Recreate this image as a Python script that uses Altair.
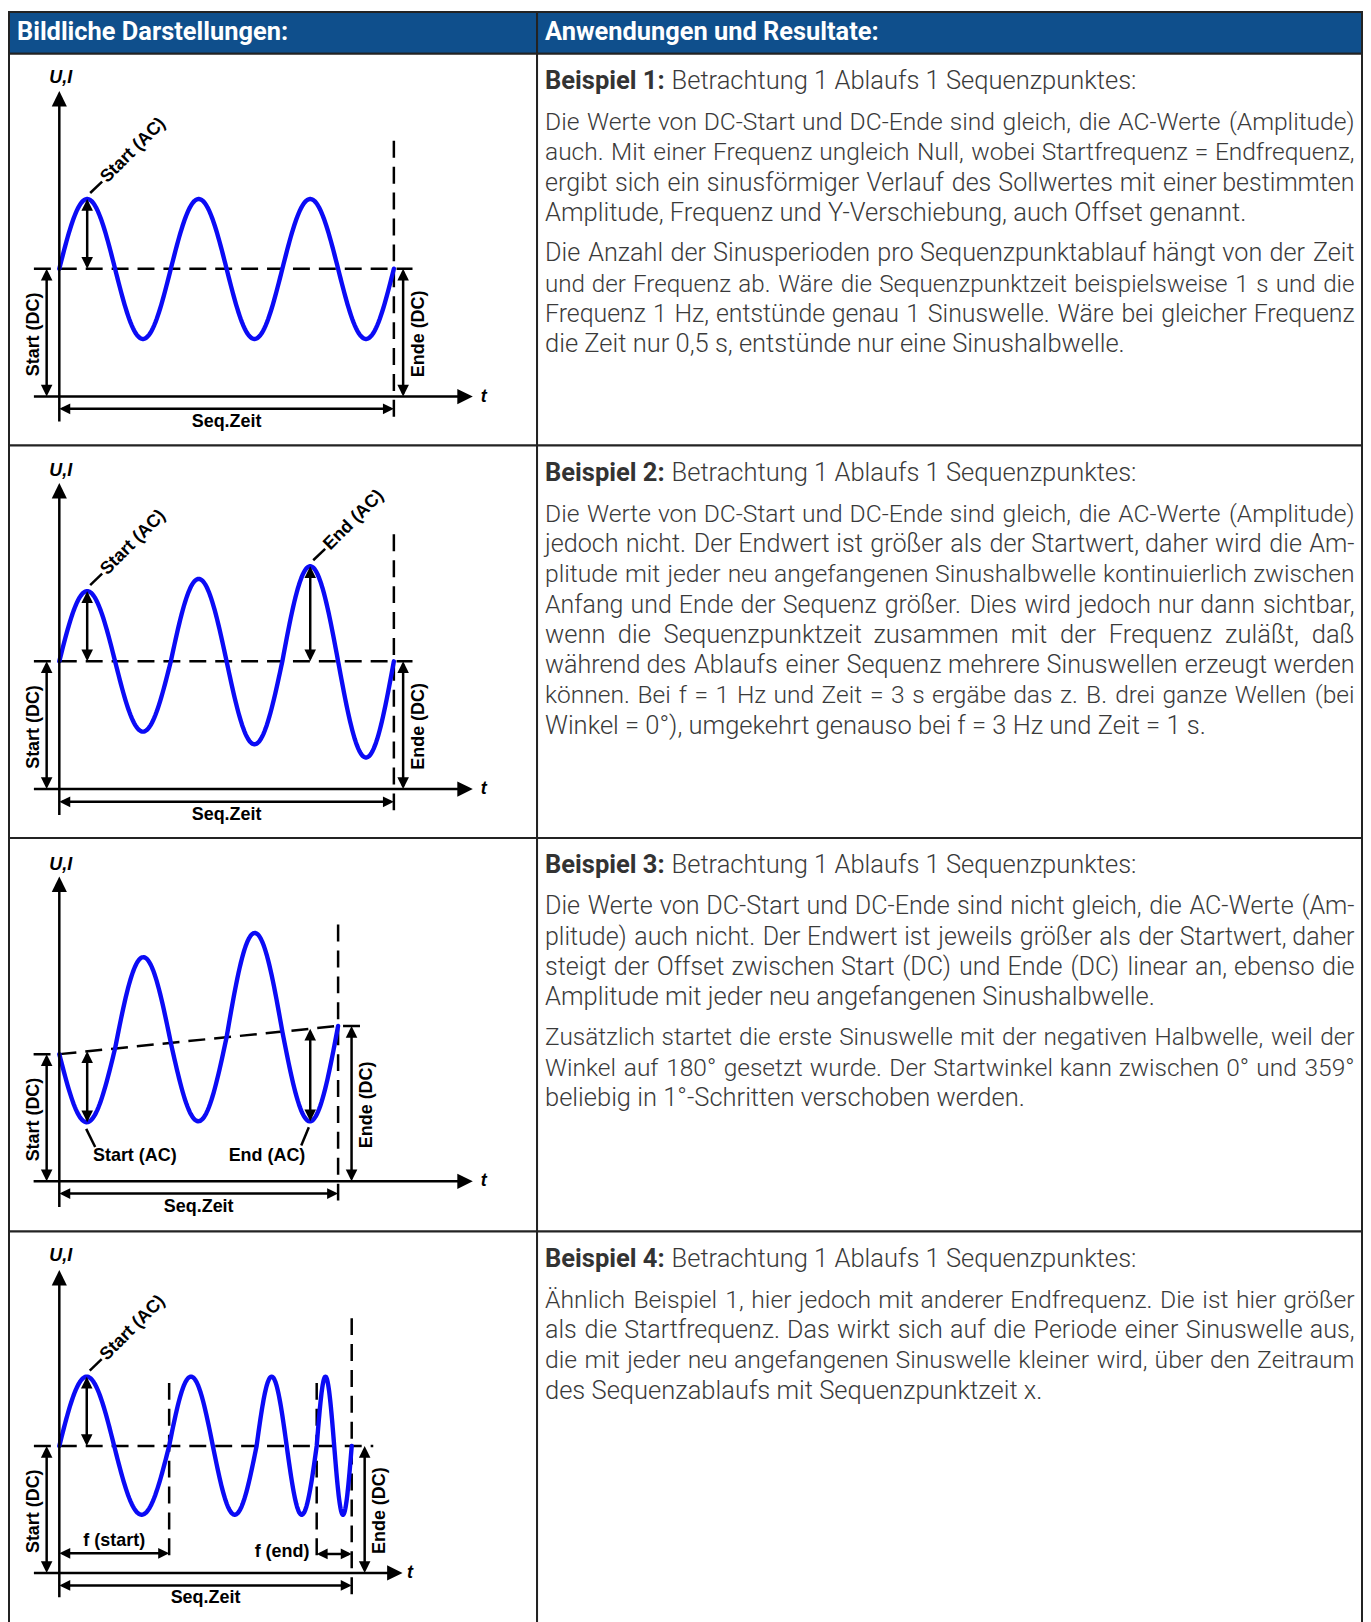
import numpy as np
import pandas as pd
import altair as alt

# ---------------------------------------------------------------- values
HEADERS = ["Bildliche Darstellungen:", "Anwendungen und Resultate:"]

# DC start / DC end (value units above the t axis), half-wave durations (s), signed half-wave amplitudes
EX1_DC = [128.3, 128.3]
EX1_HALF_DUR = [0.5, 0.5, 0.5, 0.5, 0.5, 0.5]
EX1_HALF_AMP = [70, -70.5, 70, -70.5, 70, -70.5]

EX2_DC = [128.3, 128.3]
EX2_HALF_DUR = [0.5, 0.5, 0.5, 0.5, 0.5, 0.5]
EX2_HALF_AMP = [70.4, -70.6, 82.7, -83.3, 95.4, -96.6]

EX3_DC = [127.7, 156.0]
EX3_HALF_DUR = [0.5, 0.5, 0.5, 0.5, 0.5]
EX3_HALF_AMP = [-71.2, 88.8, -81.5, 101.8, -92.9]

EX4_DC = [127.4, 127.4]
EX4_HALF_DUR = [0.492, 0.493, 0.392, 0.392, 0.27, 0.269, 0.157, 0.157]
EX4_HALF_AMP = [69.6, -69, 69.6, -69, 69.6, -69, 69.6, -69]

LBL_UI, LBL_T, LBL_SEQ = "U,I", "t", "Seq.Zeit"
LBL_SDC, LBL_EDC = "Start (DC)", "Ende (DC)"
LBL_SAC, LBL_EAC = "Start (AC)", "End (AC)"
LBL_FS, LBL_FE = "f (start)", "f (end)"

HEAD_BOLD = ["Beispiel 1:", "Beispiel 2:", "Beispiel 3:", "Beispiel 4:"]
HEAD_REST = "Betrachtung 1 Ablaufs 1 Sequenzpunktes:"

TEXT1 = [
    ["Die Werte von DC-Start und DC-Ende sind gleich, die AC-Werte (Amplitude)",
     "auch. Mit einer Frequenz ungleich Null, wobei Startfrequenz = Endfrequenz,",
     "ergibt sich ein sinusförmiger Verlauf des Sollwertes mit einer bestimmten",
     "Amplitude, Frequenz und Y-Verschiebung, auch Offset genannt."],
    ["Die Anzahl der Sinusperioden pro Sequenzpunktablauf hängt von der Zeit",
     "und der Frequenz ab. Wäre die Sequenzpunktzeit beispielsweise 1 s und die",
     "Frequenz 1 Hz, entstünde genau 1 Sinuswelle. Wäre bei gleicher Frequenz",
     "die Zeit nur 0,5 s, entstünde nur eine Sinushalbwelle."],
]
TEXT2 = [
    ["Die Werte von DC-Start und DC-Ende sind gleich, die AC-Werte (Amplitude)",
     "jedoch nicht. Der Endwert ist größer als der Startwert, daher wird die Am-",
     "plitude mit jeder neu angefangenen Sinushalbwelle kontinuierlich zwischen",
     "Anfang und Ende der Sequenz größer. Dies wird jedoch nur dann sichtbar,",
     "wenn die Sequenzpunktzeit zusammen mit der Frequenz zuläßt, daß",
     "während des Ablaufs einer Sequenz mehrere Sinuswellen erzeugt werden",
     "können. Bei f = 1 Hz und Zeit = 3 s ergäbe das z. B. drei ganze Wellen (bei",
     "Winkel = 0°), umgekehrt genauso bei f = 3 Hz und Zeit = 1 s."],
]
TEXT3 = [
    ["Die Werte von DC-Start und DC-Ende sind nicht gleich, die AC-Werte (Am-",
     "plitude) auch nicht. Der Endwert ist jeweils größer als der Startwert, daher",
     "steigt der Offset zwischen Start (DC) und Ende (DC) linear an, ebenso die",
     "Amplitude mit jeder neu angefangenen Sinushalbwelle."],
    ["Zusätzlich startet die erste Sinuswelle mit der negativen Halbwelle, weil der",
     "Winkel auf 180° gesetzt wurde. Der Startwinkel kann zwischen 0° und 359°",
     "beliebig in 1°-Schritten verschoben werden."],
]
TEXT4 = [
    ["Ähnlich Beispiel 1, hier jedoch mit anderer Endfrequenz. Die ist hier größer",
     "als die Startfrequenz. Das wirkt sich auf die Periode einer Sinuswelle aus,",
     "die mit jeder neu angefangenen Sinuswelle kleiner wird, über den Zeitraum",
     "des Sequenzablaufs mit Sequenzpunktzeit x."],
]

# ---------------------------------------------------------------- layout / style
BORDER = "#232323"
BLUE = "#0f4f8c"
WAVE = "#0b0bf5"
INK = "#000000"
TEXT_INK = "#3a3a3a"
DIAG_FONT = "Liberation Sans"
BODY_FONT = "Roboto"
BODY_SIZE = 25.6
HEAD_SIZE = 25.5

LEFT_W, RIGHT_W = 530, 828
HEAD_H = 42
ROW_H = [393, 394, 395, 397]
PPS = 111.93         # px per second on the t axis
OX = 50.5            # x of the U axis inside a diagram panel
SHAPE = "M0,0L-0.49,1L0.49,1Z"
BIG, SMALL, TINY = 961, 560, 484
DASH = [17, 9]

LAY = {
    1: dict(axis=344, ytip=306.7, ybot=-25, xl=-25.5, xr=415, tlab=426, uix=1.5, uiv=320,
            dcr=354.5, vtop=256.7, seqv=-12.3, seqlab=-25.7, sdcx=-12.7, sdclx=-25.8, edc=9.3, edcl=25.7),
    2: dict(axis=345, ytip=307.3, ybot=-26, xl=-25.5, xr=415, tlab=426, uix=1.5, uiv=319.3,
            dcr=354.5, vtop=255.7, seqv=-12.7, seqlab=-26, sdcx=-12.7, sdclx=-25.8, edc=9.3, edcl=25.7),
    3: dict(axis=344.7, ytip=306, ybot=-25.7, xl=-25.8, xr=415, tlab=426, uix=1.5, uiv=318,
            dcr=304.8, vtop=257.7, seqv=-12.3, seqlab=-25.7, sdcx=-12.7, sdclx=-25.8, edc=13.5, edcl=29.3),
    4: dict(axis=342.7, ytip=304, ybot=-24.3, xl=-25.5, xr=344.5, tlab=352, uix=1.5, uiv=318.2,
            dcr=315.1, vtop=255.7, seqv=-12.6, seqlab=-25, sdcx=-12.7, sdclx=-25.8, edc=13, edcl=28.5),
}


def px2s(px):
    return px / PPS


def diagram(num, dc, durs, amps, height):
    lay = LAY[num]
    dur = np.asarray(durs, float)
    amp = np.asarray(amps, float)
    seq = float(dur.sum())
    dc0, dc1 = dc

    def dcv(t):
        return dc0 + (dc1 - dc0) * np.asarray(t, float) / seq

    starts = np.concatenate([[0.0], np.cumsum(dur)[:-1]])
    wt, wv = [], []
    for s, d, a in zip(starts, dur, amp):
        ts = np.linspace(s, s + d, 48)
        wt += list(ts)
        wv += list(dcv(ts) + a * np.sin(np.pi * (ts - s) / d))
    wave = pd.DataFrame({"x": wt, "y": wv, "i": np.arange(len(wt))})
    ext_t = starts + dur / 2
    ext_v = dcv(ext_t) + amp

    rules, heads, dashes, tc, tl, ti = [], [], [], [], [], []
    sh = 3.0

    def rule(x, y, x2, y2):
        rules.append(dict(x=x, y=y, x2=x2, y2=y2))

    def head(x, y, a, s):
        heads.append(dict(x=x, y=y, a=a, s=s))

    def varrow(x, v0, v1, size=SMALL):
        d = 1 if v1 > v0 else -1
        rule(x, v0 + d * sh, x, v1 - d * sh)
        head(x, v0, 180 if d > 0 else 0, size)
        head(x, v1, 0 if d > 0 else 180, size)

    def harrow(v, x0, x1, size=TINY):
        rule(x0 + px2s(sh), v, x1 - px2s(sh), v)
        head(x0, v, 270, size)
        head(x1, v, 90, size)

    def dash(pts):
        g = len(set(r["g"] for r in dashes))
        for i, (x, y) in enumerate(pts):
            dashes.append(dict(x=x, y=y, g=g, i=i))

    # axes
    rule(0, lay["ybot"], 0, lay["ytip"] - 8)
    head(0, lay["ytip"], 0, BIG)
    rule(px2s(lay["xl"]), 0, px2s(lay["xr"] - 8), 0)
    head(px2s(lay["xr"]), 0, 90, BIG)
    ti.append(dict(x=px2s(lay["uix"]), y=lay["uiv"], s=LBL_UI, a=0))
    ti.append(dict(x=px2s(lay["tlab"]), y=0, s=LBL_T, a=0))

    # DC line(s)
    if dc0 == dc1:
        dash([(px2s(lay["xl"]), dc0), (px2s(lay["dcr"]), dc1)])
    else:
        dash([(px2s(lay["xl"]), dc0), (0, dc0), (seq, dc1), (px2s(lay["dcr"]), dc1)])
    dash([(seq, lay["vtop"]), (seq, lay["ybot"])])

    # sequence time
    harrow(lay["seqv"], 0, seq)
    tc.append(dict(x=seq / 2, y=lay["seqlab"], s=LBL_SEQ, a=0))
    # DC arrows
    varrow(px2s(lay["sdcx"]), 0, dc0)
    tc.append(dict(x=px2s(lay["sdclx"]), y=dc0 / 2 - 1.8, s=LBL_SDC, a=270))
    varrow(seq + px2s(lay["edc"]), 0, dc1)
    tc.append(dict(x=seq + px2s(lay["edcl"]), y=dc1 / 2 - 1.2, s=LBL_EDC, a=270))

    def rot_label(i, txt):
        xp, vp = ext_t[i], ext_v[i]
        varrow(xp, float(dcv(xp)), vp)
        rule(xp + px2s(3), vp + 6, xp + px2s(15), vp + 17.5)
        tl.append(dict(x=xp + px2s(16.5), y=vp + 19, s=txt, a=315))

    if num in (1, 2, 4):
        rot_label(0, LBL_SAC)
    if num == 2:
        rot_label(len(amp) - 2, LBL_EAC)
    if num == 3:
        i0, i1 = 0, len(amp) - 1
        for i in (i0, i1):
            varrow(ext_t[i], float(dcv(ext_t[i])), ext_v[i])
        x0, v0 = ext_t[i0], ext_v[i0]
        rule(x0 - px2s(1), v0 - 6.6, x0 + px2s(8), v0 - 24.9)
        tc.append(dict(x=x0 + px2s(47.8), y=v0 - 34.3, s=LBL_SAC, a=0))
        x1, v1 = ext_t[i1], ext_v[i1]
        rule(x1 - px2s(1.4), v1 - 5.9, x1 - px2s(9), v1 - 24.3)
        tc.append(dict(x=x1 - px2s(43.4), y=v1 - 35.3, s=LBL_EAC, a=0))
    if num == 4:
        p1_end = starts[2]
        last_start = starts[-2]
        dash([(p1_end, 190.7), (p1_end, 12.4)])
        dash([(last_start, 190.7), (last_start, 12.4)])
        harrow(19.7, 0, p1_end)
        tc.append(dict(x=p1_end / 2, y=32.4, s=LBL_FS, a=0))
        harrow(19.0, last_start, seq)
        tc.append(dict(x=last_start - px2s(34.8), y=20.7, s=LBL_FE, a=0))

    axis = lay["axis"]
    xs = alt.Scale(domain=[-OX / PPS, (LEFT_W - OX) / PPS], nice=False, zero=False)
    ys = alt.Scale(domain=[axis - height, axis], nice=False, zero=False)
    X = alt.X("x:Q", scale=xs, axis=None)
    Y = alt.Y("y:Q", scale=ys, axis=None)

    layers = [
        alt.Chart(pd.DataFrame(dashes)).mark_line(color=INK, strokeWidth=2.5, strokeDash=DASH)
        .encode(x=X, y=Y, detail="g:N", order="i:Q"),
        alt.Chart(wave).mark_line(color=WAVE, strokeWidth=4.4, strokeCap="round", strokeJoin="round")
        .encode(x=X, y=Y, order="i:Q"),
        alt.Chart(pd.DataFrame(rules)).mark_rule(color=INK, strokeWidth=2.5)
        .encode(x=X, y=Y, x2="x2:Q", y2="y2:Q"),
        alt.Chart(pd.DataFrame(heads)).mark_point(shape=SHAPE, filled=True, color=INK, opacity=1, strokeWidth=0)
        .encode(x=X, y=Y, angle=alt.Angle("a:Q", scale=None), size=alt.Size("s:Q", scale=None)),
        alt.Chart(pd.DataFrame(tc)).mark_text(font=DIAG_FONT, fontWeight="bold", fontSize=18, color=INK,
                                              align="center", baseline="middle")
        .encode(x=X, y=Y, text="s:N", angle=alt.Angle("a:Q", scale=None)),
        alt.Chart(pd.DataFrame(ti)).mark_text(font=DIAG_FONT, fontWeight="bold", fontStyle="italic", fontSize=18,
                                              color=INK, align="center", baseline="middle")
        .encode(x=X, y=Y, text="s:N"),
    ]
    if tl:
        layers.append(
            alt.Chart(pd.DataFrame(tl)).mark_text(font=DIAG_FONT, fontWeight="bold", fontSize=18, color=INK,
                                                  align="left", baseline="middle")
            .encode(x=X, y=Y, text="s:N", angle=alt.Angle("a:Q", scale=None)))
    return alt.layer(*layers).properties(width=LEFT_W, height=height)


# ---------------------------------------------------------------- justified text (Roboto advance widths, em)
EM = {' ': 0.248, 'a': 0.531, 'b': 0.547, 'c': 0.510, 'd': 0.550, 'e': 0.517, 'f': 0.339, 'g': 0.547,
      'h': 0.537, 'i': 0.237, 'j': 0.233, 'k': 0.494, 'l': 0.237, 'm': 0.855, 'n': 0.538, 'o': 0.556,
      'p': 0.547, 'q': 0.553, 'r': 0.330, 's': 0.503, 't': 0.319, 'u': 0.537, 'v': 0.472, 'w': 0.733,
      'x': 0.483, 'y': 0.461, 'z': 0.483, 'A': 0.652, 'B': 0.622, 'C': 0.651, 'D': 0.656, 'E': 0.568,
      'F': 0.553, 'G': 0.681, 'H': 0.713, 'I': 0.272, 'J': 0.552, 'K': 0.627, 'L': 0.538, 'M': 0.873,
      'N': 0.713, 'O': 0.688, 'P': 0.631, 'Q': 0.688, 'R': 0.616, 'S': 0.593, 'T': 0.597, 'U': 0.649,
      'V': 0.636, 'W': 0.887, 'X': 0.627, 'Y': 0.601, 'Z': 0.599, '.': 0.263, ',': 0.196, ':': 0.242,
      '-': 0.276, '(': 0.342, ')': 0.348, '=': 0.549, '°': 0.375, 'ß': 0.582, 'ä': 0.531, 'ö': 0.556,
      'ü': 0.537, 'Ä': 0.652}
for _d in "0123456789":
    EM[_d] = 0.561

TL, TR = 8.0, 820.5
HEAD_BASE, FIRST_BASE = 35.3, 76.6
LINE_H, PARA_GAP = 30.4, 40.5
GAP_MIN = 7.6


def em_width(word):
    return sum(EM.get(c, 0.53) for c in word)


def text_cell(idx, paragraphs, height):
    rl, rc, rr = [], [], []
    rl.append(dict(x=135, y=HEAD_BASE, s=HEAD_REST, fs=BODY_SIZE))
    y = FIRST_BASE
    for p_i, para in enumerate(paragraphs):
        if p_i:
            y += PARA_GAP - LINE_H
        for l_i, line in enumerate(para):
            if l_i == len(para) - 1:
                rl.append(dict(x=TL, y=y, s=line, fs=BODY_SIZE))
                y += LINE_H
                continue
            words = line.split(" ")
            n = len(words)
            em = np.array([em_width(wd) for wd in words])
            fs = min(BODY_SIZE, (TR - TL - (n - 1) * GAP_MIN) / em.sum())
            w = em * fs
            gap = (TR - TL - w.sum()) / (n - 1)
            x = TL
            for k, (wd, ww) in enumerate(zip(words, w)):
                if k == 0:
                    rl.append(dict(x=TL, y=y, s=wd, fs=fs))
                elif k == n - 1:
                    rr.append(dict(x=TR, y=y, s=wd, fs=fs))
                else:
                    rc.append(dict(x=x + ww / 2, y=y, s=wd, fs=fs))
                x += ww + gap
            y += LINE_H
    X = alt.X("x:Q", scale=None, axis=None)
    Y = alt.Y("y:Q", scale=None, axis=None)
    S = alt.Size("fs:Q", scale=None)
    base = dict(font=BODY_FONT, fontWeight=300, color=TEXT_INK, baseline="alphabetic")
    layers = [
        alt.Chart(pd.DataFrame([dict(x=TL, y=HEAD_BASE, s=HEAD_BOLD[idx])]))
        .mark_text(font=BODY_FONT, fontWeight="bold", fontSize=BODY_SIZE, color="#333333",
                   baseline="alphabetic", align="left").encode(x=X, y=Y, text="s:N"),
        alt.Chart(pd.DataFrame(rl)).mark_text(align="left", **base).encode(x=X, y=Y, text="s:N", size=S),
        alt.Chart(pd.DataFrame(rc)).mark_text(align="center", **base).encode(x=X, y=Y, text="s:N", size=S),
        alt.Chart(pd.DataFrame(rr)).mark_text(align="right", **base).encode(x=X, y=Y, text="s:N", size=S),
    ]
    return alt.layer(*layers).properties(width=RIGHT_W, height=height)


def header(label, width):
    return (alt.Chart(pd.DataFrame({"s": [label]}))
            .mark_text(font=BODY_FONT, fontWeight="bold", fontSize=HEAD_SIZE, color="white",
                       align="left", baseline="alphabetic")
            .encode(x=alt.value(8), y=alt.value(27.7), text="s:N")
            .properties(width=width, height=HEAD_H,
                        view=alt.ViewBackground(fill=BLUE, stroke=BORDER, strokeWidth=2)))


cells = [header(HEADERS[0], LEFT_W), header(HEADERS[1], RIGHT_W)]
specs = [(1, EX1_DC, EX1_HALF_DUR, EX1_HALF_AMP, TEXT1),
         (2, EX2_DC, EX2_HALF_DUR, EX2_HALF_AMP, TEXT2),
         (3, EX3_DC, EX3_HALF_DUR, EX3_HALF_AMP, TEXT3),
         (4, EX4_DC, EX4_HALF_DUR, EX4_HALF_AMP, TEXT4)]
for k, (num, dc, durs, amps, txt) in enumerate(specs):
    h = ROW_H[k]
    cells.append(diagram(num, dc, durs, amps, h))
    cells.append(text_cell(k, txt, h))

chart = (alt.concat(*cells, columns=2, spacing=0, bounds="flush", padding=0)
         .configure_view(stroke=BORDER, strokeWidth=2, fill="white"))

chart.save("out.html", embed_options={"renderer": "svg", "actions": False})
